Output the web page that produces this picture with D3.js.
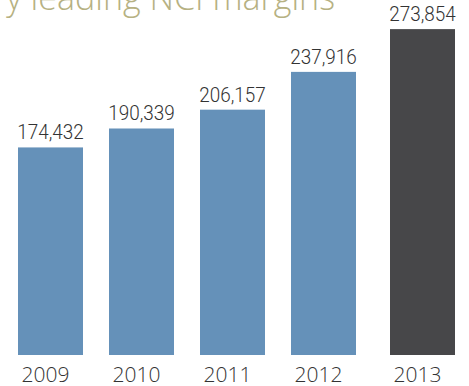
<!DOCTYPE html>
<html>
<head>
<meta charset="utf-8">
<script src="https://cdn.jsdelivr.net/npm/d3@7"></script>
<style>
  html, body { margin: 0; padding: 0; background: #ffffff; }
  svg { display: block; }
</style>
</head>
<body>
<div id="chart"></div>
<script>
// Net client income by year
const years = ["2009", "2010", "2011", "2012", "2013"];
const values = [174432, 190339, 206157, 237916, 273854];
const highlightYear = "2013";
const titleText = "Industry leading NCI margins";

const W = 469, H = 386;
const baseY = 355;
const fmt = d3.format(",");

const svg = d3.select("#chart").append("svg")
  .attr("width", W).attr("height", H);

// Bars sit on a common baseline; heights proportional to value
const y = d3.scaleLinear().domain([0, 300000]).range([baseY, baseY - 357]);

const x = d3.scaleBand()
  .domain(years)
  .range([18, 447])
  .paddingInner(26 / 91)
  .paddingOuter(0);

// The latest year is set apart from the others
const highlightGap = 8;
const xPos = d => x(d) + (d === highlightYear ? highlightGap : 0);

const data = years.map((yr, i) => ({ year: yr, value: values[i] }));

// Title runs off the top-left edge; clip it to the panel
svg.append("clipPath").attr("id", "title-clip")
  .append("rect").attr("x", 5).attr("y", 0).attr("width", W - 5).attr("height", 30);

svg.append("text")
  .attr("clip-path", "url(#title-clip)")
  .attr("x", 335)
  .attr("y", 10)
  .attr("text-anchor", "end")
  .attr("fill", "#b6b182")
  .style("font-family", "'Open Sans', sans-serif")
  .style("font-weight", 300)
  .style("font-size", "34px")
  .text(titleText);

svg.selectAll("rect.bar")
  .data(data)
  .join("rect")
  .attr("class", "bar")
  .attr("x", d => xPos(d.year))
  .attr("y", d => y(d.value))
  .attr("width", x.bandwidth())
  .attr("height", d => baseY - y(d.value))
  .attr("fill", d => d.year === highlightYear ? "#474749" : "#6591b9");

// Value labels above bars
svg.selectAll("text.val")
  .data(data)
  .join("text")
  .attr("class", "val")
  .attr("text-anchor", "middle")
  .attr("transform", d => `translate(${xPos(d.year) + x.bandwidth() / 2},${y(d.value) - 8}) scale(0.9,1)`)
  .attr("fill", "#333333")
  .style("font-family", "Roboto, sans-serif")
  .style("font-weight", 300)
  .style("font-size", "21px")
  .text(d => fmt(d.value));

// Year labels under bars
svg.selectAll("text.yr")
  .data(data)
  .join("text")
  .attr("class", "yr")
  .attr("text-anchor", "middle")
  .attr("x", d => xPos(d.year) + x.bandwidth() / 2 - 5)
  .attr("y", 382)
  .attr("fill", "#333333")
  .style("font-family", "'Open Sans', sans-serif")
  .style("font-weight", 300)
  .style("font-size", "21px")
  .text(d => d.year);
</script>
</body>
</html>
